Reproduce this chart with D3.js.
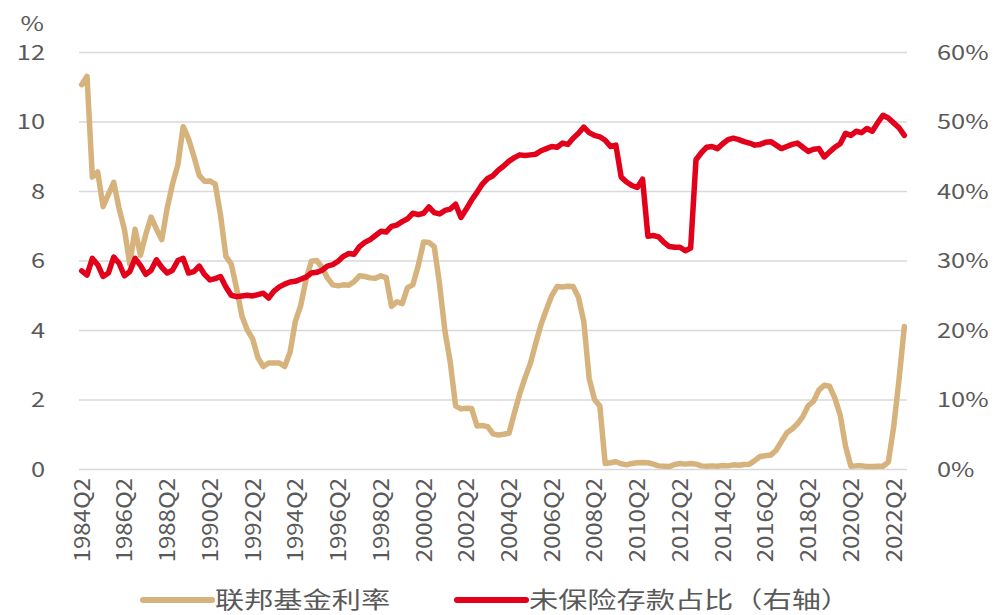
<!DOCTYPE html>
<html>
<head>
<meta charset="utf-8">
<script src="https://cdn.jsdelivr.net/npm/d3@7/dist/d3.min.js"></script>
<style>
  body { margin: 0; background: #fff; }
  svg { display: block; }
  text { font-family: "Noto Sans CJK SC", "Noto Sans", sans-serif; fill: #595959; }
</style>
</head>
<body>
<svg id="chart" width="994" height="615"></svg>
<script>
// Quarterly series, 1984Q2 – 2022Q4
const firstYear = 1984, firstQuarter = 2, quarterCount = 155;

// Federal funds rate, % (left axis)
const fedFundsRate = [
  11.06, 11.3, 8.4, 8.55, 7.55, 7.9, 8.25, 7.5, 6.9, 5.9,
  6.9, 6.15, 6.75, 7.25, 6.9, 6.6, 7.5, 8.2, 8.75, 9.85,
  9.5, 9.0, 8.45, 8.28, 8.29, 8.2, 7.3, 6.12, 5.9, 5.2,
  4.4, 4.0, 3.75, 3.2, 2.95, 3.05, 3.05, 3.05, 2.95, 3.35,
  4.25, 4.7, 5.45, 5.98, 6.0, 5.8, 5.5, 5.3, 5.27, 5.3,
  5.29, 5.39, 5.56, 5.54, 5.5, 5.49, 5.56, 5.51, 4.68, 4.81,
  4.76, 5.22, 5.3, 5.85, 6.53, 6.52, 6.4, 5.31, 3.97, 3.07,
  1.82, 1.73, 1.75, 1.74, 1.24, 1.25, 1.22, 1.01, 0.98, 1.0,
  1.03, 1.61, 2.16, 2.63, 3.04, 3.62, 4.16, 4.59, 4.99, 5.25,
  5.24, 5.26, 5.25, 4.94, 4.24, 2.61, 2.0, 1.81, 0.16, 0.18,
  0.21, 0.15, 0.12, 0.16, 0.18, 0.19, 0.18, 0.14, 0.09, 0.08,
  0.07, 0.13, 0.16, 0.14, 0.16, 0.14, 0.09, 0.08, 0.09, 0.08,
  0.1, 0.09, 0.12, 0.11, 0.13, 0.14, 0.24, 0.36, 0.38, 0.4,
  0.54, 0.79, 1.04, 1.15, 1.3, 1.51, 1.82, 1.95, 2.27, 2.41,
  2.38, 2.04, 1.55, 0.65, 0.08, 0.09, 0.09, 0.07, 0.07, 0.08,
  0.08, 0.2, 1.21, 2.56, 4.1
];

// Uninsured deposits as share of total deposits, % (right axis)
const uninsuredShare = [
  28.5, 27.9, 30.3, 29.4, 27.7, 28.2, 30.5, 29.6, 27.8, 28.4,
  30.3, 29.3, 28.0, 28.6, 30.1, 29.0, 28.2, 28.6, 30.0, 30.3,
  28.2, 28.4, 29.2, 28.0, 27.2, 27.4, 27.7, 26.2, 25.0, 24.8,
  24.9, 25.0, 24.9, 25.1, 25.3, 24.6, 25.6, 26.2, 26.6, 26.9,
  27.0, 27.3, 27.6, 28.2, 28.3, 28.6, 29.2, 29.4, 29.9, 30.6,
  31.0, 30.9, 32.0, 32.6, 33.0, 33.6, 34.2, 34.1, 34.9, 35.1,
  35.6, 36.0, 36.8, 36.6, 36.8, 37.7, 36.9, 36.7, 37.2, 37.4,
  38.1, 36.2, 37.4, 38.7, 39.8, 41.0, 41.8, 42.2, 43.0, 43.6,
  44.3, 44.8, 45.2, 45.1, 45.2, 45.3, 45.8, 46.1, 46.4, 46.3,
  46.9, 46.7, 47.6, 48.3, 49.2, 48.4, 48.0, 47.8, 47.3, 46.4,
  46.6, 42.0, 41.3, 40.8, 40.5, 41.7, 33.5, 33.6, 33.4, 32.6,
  32.0, 31.9, 31.9, 31.4, 31.8, 44.5, 45.5, 46.3, 46.4, 46.1,
  46.8, 47.4, 47.6, 47.4, 47.1, 46.9, 46.6, 46.7, 47.0, 47.1,
  46.6, 46.1, 46.4, 46.7, 46.9, 46.3, 45.7, 46.0, 46.1, 44.9,
  45.6, 46.3, 46.8, 48.3, 48.0, 48.6, 48.4, 49.0, 48.6, 49.8,
  50.9, 50.5, 49.8, 49.1, 48.0
];

const xTickLabels = [
  "1984Q2", "1986Q2", "1988Q2", "1990Q2", "1992Q2", "1994Q2", "1996Q2",
  "1998Q2", "2000Q2", "2002Q2", "2004Q2", "2006Q2", "2008Q2", "2010Q2",
  "2012Q2", "2014Q2", "2016Q2", "2018Q2", "2020Q2", "2022Q2"
];
const leftTicks = [0, 2, 4, 6, 8, 10, 12];
const rightTicks = [0, 10, 20, 30, 40, 50, 60];

const seriesNames = ["联邦基金利率", "未保险存款占比（右轴）"];
const seriesColors = ["#D6B27C", "#E2001A"];

// Quarter labels for the band scale
const quarters = [];
for (let k = 0; k < quarterCount; k++) {
  const q = firstQuarter - 1 + k;
  quarters.push(`${firstYear + Math.floor(q / 4)}Q${(q % 4) + 1}`);
}

const svg = d3.select("#chart");
const plot = { left: 79, right: 907, top: 52, bottom: 469 };
const stretch = 1.27; // horizontal text is drawn slightly wide

const x = d3.scaleBand().domain(quarters).range([plot.left, plot.right]);
const xc = q => x(q) + x.bandwidth() / 2;
const yL = d3.scaleLinear().domain([0, 12]).range([plot.bottom, plot.top]);
const yR = d3.scaleLinear().domain([0, 60]).range([plot.bottom, plot.top]);

// Horizontal gridlines
svg.append("g")
  .attr("transform", `translate(${plot.left},0)`)
  .call(d3.axisLeft(yL).tickValues(leftTicks).tickSize(-(plot.right - plot.left)).tickFormat(""))
  .call(g => g.select(".domain").remove())
  .call(g => g.selectAll("line").attr("stroke", "#D9D9D9").attr("stroke-width", 1.5));

// Left axis labels
svg.append("g")
  .attr("transform", "translate(45,0)")
  .call(d3.axisLeft(yL).tickValues(leftTicks).tickSize(0).tickPadding(0))
  .call(g => g.select(".domain").remove())
  .call(g => g.selectAll("text")
    .attr("x", 0).attr("dy", "0.35em")
    .attr("text-anchor", "end")
    .attr("transform", `scale(${stretch},1)`)
    .style("font-size", "20px").style("fill", "#595959"));

svg.append("text")
  .attr("transform", `translate(44,31) scale(${stretch},1)`)
  .attr("text-anchor", "end")
  .style("font-size", "20px")
  .text("%");

// Right axis labels
svg.append("g")
  .attr("transform", "translate(937,0)")
  .call(d3.axisRight(yR).tickValues(rightTicks).tickSize(0).tickPadding(0)
    .tickFormat(d => d + "%"))
  .call(g => g.select(".domain").remove())
  .call(g => g.selectAll("text")
    .attr("x", 0).attr("dy", "0.35em")
    .attr("text-anchor", "start")
    .attr("transform", `scale(${stretch},1)`)
    .style("font-size", "20px").style("fill", "#595959"));

// Bottom axis, rotated quarter labels
svg.append("g")
  .attr("transform", `translate(0,${plot.bottom})`)
  .call(d3.axisBottom(x).tickValues(xTickLabels).tickSize(0))
  .call(g => g.select(".domain").remove())
  .call(g => g.selectAll("text")
    .attr("x", 0).attr("y", 0).attr("dy", "0.36em")
    .attr("text-anchor", "end")
    .attr("transform", "translate(0,9) scale(0.92,1) rotate(-90)")
    .style("font-size", "24px").style("fill", "#595959"));

// Lines
const lineL = d3.line().x((d, i) => xc(quarters[i])).y(d => yL(d));
const lineR = d3.line().x((d, i) => xc(quarters[i])).y(d => yR(d));

svg.append("path")
  .datum(fedFundsRate)
  .attr("d", lineL)
  .attr("fill", "none")
  .attr("stroke", seriesColors[0])
  .attr("stroke-width", 5.5)
  .attr("stroke-linejoin", "round")
  .attr("stroke-linecap", "round");

svg.append("path")
  .datum(uninsuredShare)
  .attr("d", lineR)
  .attr("fill", "none")
  .attr("stroke", seriesColors[1])
  .attr("stroke-width", 5.5)
  .attr("stroke-linejoin", "round")
  .attr("stroke-linecap", "round");

// Legend
const legendItems = [
  { name: seriesNames[0], color: seriesColors[0], x0: 143 },
  { name: seriesNames[1], color: seriesColors[1], x0: 457 }
];
const legendY = 600;
const lg = svg.append("g");
legendItems.forEach(it => {
  lg.append("line")
    .attr("x1", it.x0).attr("x2", it.x0 + 69)
    .attr("y1", legendY).attr("y2", legendY)
    .attr("stroke", it.color).attr("stroke-width", 6)
    .attr("stroke-linecap", "round");
  lg.append("text")
    .attr("transform", `translate(${it.x0 + 72},${legendY + 8}) scale(${stretch},1)`)
    .style("font-size", "23px")
    .text(it.name);
});
</script>
</body>
</html>
